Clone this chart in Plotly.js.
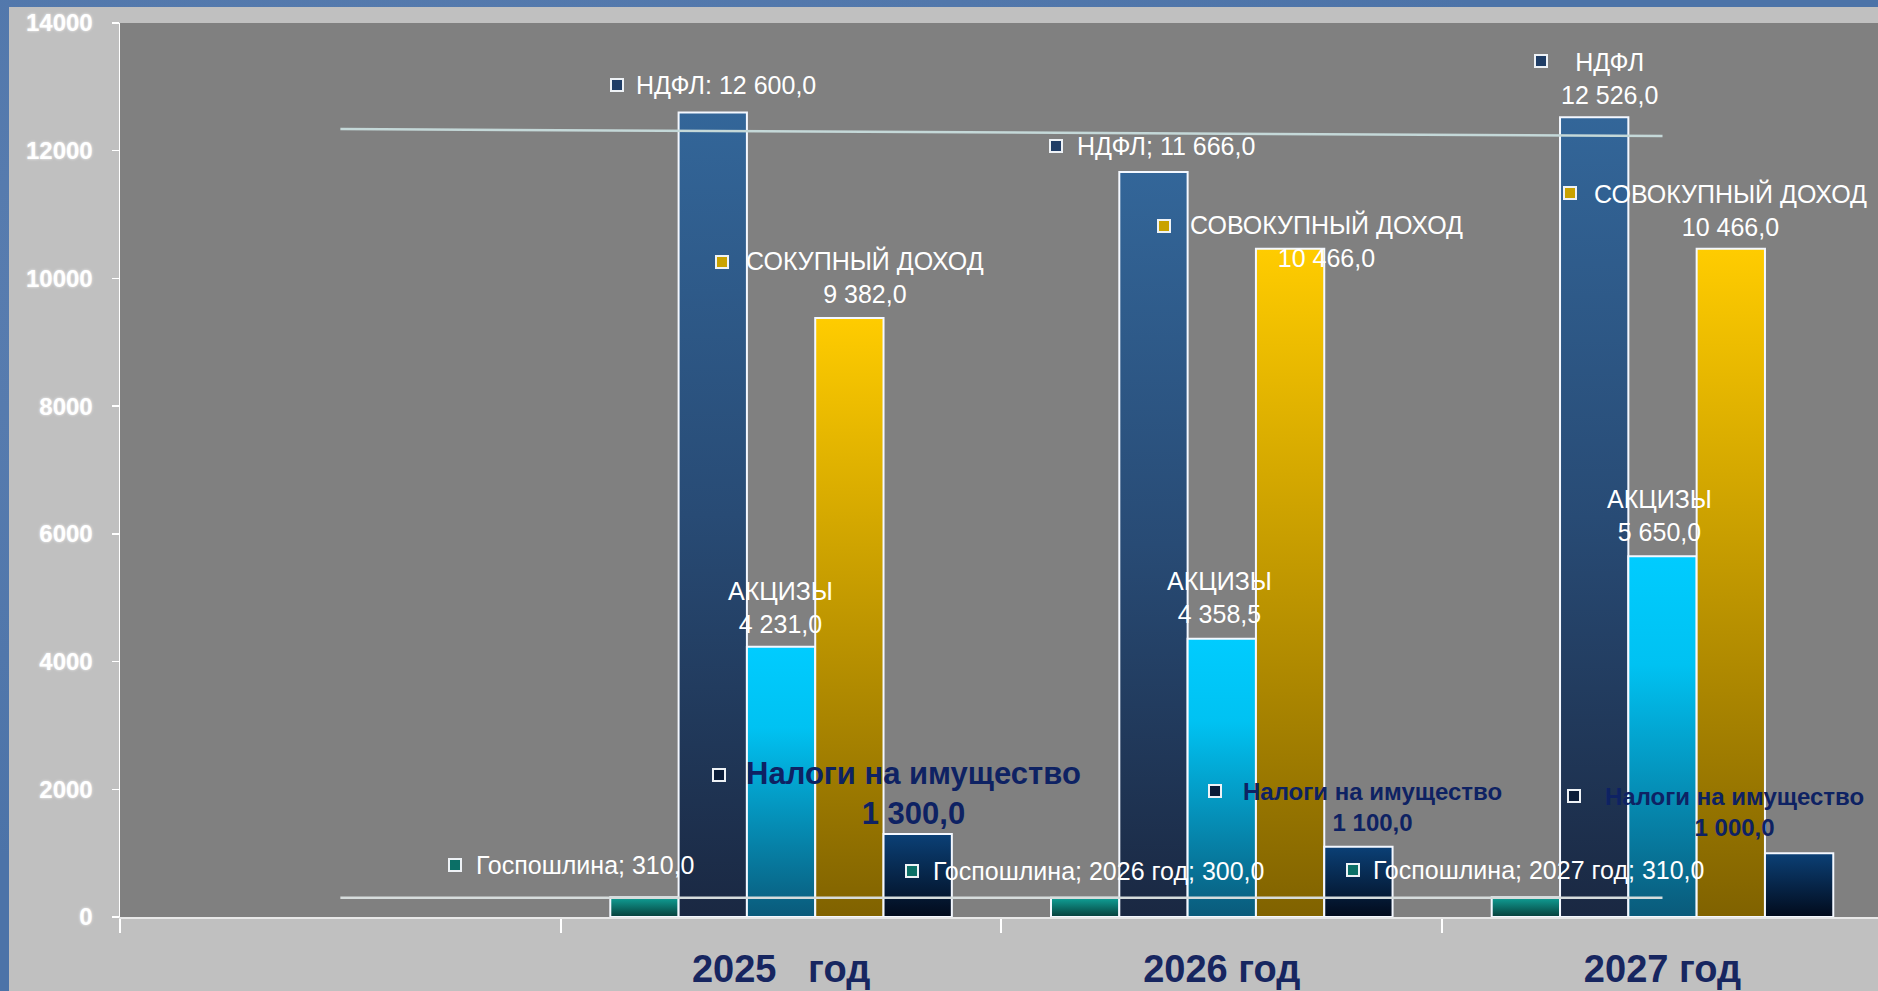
<!DOCTYPE html>
<html>
<head>
<meta charset="utf-8">
<script src="https://cdn.plot.ly/plotly-3.0.1.min.js"></script>
<style>
html,body{margin:0;padding:0;width:1878px;height:991px;overflow:hidden;
  background:#4c73a8;
  background-image:
    radial-gradient(ellipse at 20% 30%, rgba(120,150,195,0.35), rgba(0,0,0,0) 60%),
    radial-gradient(ellipse at 80% 70%, rgba(40,70,120,0.35), rgba(0,0,0,0) 60%);}
#chart{position:absolute;left:9px;top:7px;width:1869px;height:984px;}
</style>
</head>
<body>
<div id="chart"></div>
<script>
// ---- data ----
const categories = ['\u00a0', '2025\u00a0\u00a0\u00a0год', '2026 год', '2027 год'];
const years = categories.slice(1);
const seriesNames = ['Госпошлина', 'НДФЛ', 'АКЦИЗЫ', 'СОВОКУПНЫЙ ДОХОД', 'Налоги на имущество'];
const gosposhlina = [310, 300, 310];
const ndfl = [12600, 11666, 12526];
const akcizy = [4231, 4358.5, 5650];
const sovokupny = [9382, 10466, 10466];
const nalogiImush = [1300, 1100, 1000];
const trendNdfl = [12340, 12230];
const trendGos = [300, 300];
const yTicks = [0, 2000, 4000, 6000, 8000, 10000, 12000, 14000];

// ---- helpers ----
const FONT = 'Liberation Sans, Arial, sans-serif';
function fmt(v) {
  const parts = v.toFixed(1).split('.');
  return parts[0].replace(/\B(?=(\d{3})+(?!\d))/g, ' ') + ',' + parts[1];
}
const seriesValues = [gosposhlina, ndfl, akcizy, sovokupny, nalogiImush];
const baseColors = ['#0a8a80', '#2a5585', '#00bfef', '#e0b000', '#06284a'];
const keyColors = ['#0b6f66', '#1f3d66', '#00a8e0', '#c9a200', '#0a1c38'];
const gradIds = ['gGos', 'gNdfl', 'gAkc', 'gSov', 'gNal'];
const gradStops = [
  [[0, '#10a197'], [1, '#063e3a']],
  [[0, '#336699'], [0.5, '#284b75'], [1, '#1a2842']],
  [[0, '#00ccff'], [0.3, '#00c2f2'], [1, '#0a5a7a']],
  [[0, '#ffcc00'], [1, '#806200']],
  [[0, '#0b4076'], [1, '#020b1c']]
];
const barStep = 68.3; // px between bar centres in a group

// ---- traces ----
const data = seriesValues.map((vals, k) => ({
  type: 'bar', x: years, y: vals, name: seriesNames[k],
  marker: {color: baseColors[k], line: {color: '#f4f8ff', width: 2}},
  hoverinfo: 'skip'
}));
data.push({type: 'scatter', mode: 'lines', x: [categories[0], categories[3]], y: trendNdfl,
  line: {color: '#c4d8d8', width: 2.5}, hoverinfo: 'skip'});
data.push({type: 'scatter', mode: 'lines', x: [categories[0], categories[3]], y: trendGos,
  line: {color: '#d6dcdc', width: 2.5}, hoverinfo: 'skip'});

// ---- labels ----
const styles = {
  w: {family: FONT, size: 25, color: '#ffffff'},
  n30: {family: FONT, size: 31, color: '#0e2263', weight: 'bold'},
  n24: {family: FONT, size: 24, color: '#0e2263', weight: 'bold'}
};
// [year index, series index, dx, dy, anchor, text, style]
const labelSpecs = [
  [0, 0, -168, -32, 'left', seriesNames[0] + '; ' + fmt(gosposhlina[0]), 'w'],
  [0, 1, -77, -27, 'left', 'НДФЛ: ' + fmt(ndfl[0]), 'w'],
  [0, 3, 16, -41, 'center', 'СОКУПНЫЙ ДОХОД<br>' + fmt(sovokupny[0]), 'w'],
  [0, 2, -1, -39, 'center', seriesNames[2] + '<br>' + fmt(akcizy[0]), 'w'],
  [0, 4, -4, -40, 'center', seriesNames[4] + '<br>' + fmt(nalogiImush[0]), 'n30'],
  [1, 0, -152, -27, 'left', seriesNames[0] + '; ' + years[1] + '; ' + fmt(gosposhlina[1]), 'w'],
  [1, 1, -76, -26, 'left', 'НДФЛ; ' + fmt(ndfl[1]), 'w'],
  [1, 3, 36, -8, 'center', seriesNames[3] + '<br>' + fmt(sovokupny[1]), 'w'],
  [1, 2, -2, -41, 'center', seriesNames[2] + '<br>' + fmt(akcizy[1]), 'w'],
  [1, 4, 14, -40, 'center', seriesNames[4] + '<br>' + fmt(nalogiImush[1]), 'n24'],
  [2, 0, -153, -27, 'left', seriesNames[0] + '; ' + years[2] + '; ' + fmt(gosposhlina[2]), 'w'],
  [2, 1, 15, -39, 'center', 'НДФЛ<br>' + fmt(ndfl[2]), 'w'],
  [2, 3, 0, -39, 'center', seriesNames[3] + '<br>' + fmt(sovokupny[2]), 'w'],
  [2, 2, -3, -41, 'center', seriesNames[2] + '<br>' + fmt(akcizy[2]), 'w'],
  [2, 4, -65, -41, 'center', seriesNames[4] + '<br>' + fmt(nalogiImush[2]), 'n24']
];
// legend keys: [year index, series index, dx, dy]
const keySpecs = [
  [0, 0, -189, -32], [0, 1, -96, -27], [0, 3, -127, -56], [0, 4, -199, -59],
  [1, 0, -173, -27], [1, 1, -97, -26], [1, 3, -126, -23], [1, 4, -143, -56],
  [2, 0, -173, -27], [2, 1, -53, -56], [2, 3, -161, -56], [2, 4, -225, -57]
];
const annotations = [];
labelSpecs.forEach(([g, k, dx, dy, anchor, text, st]) => {
  annotations.push({
    xref: 'x', yref: 'y', x: g + 1, y: seriesValues[k][g],
    xshift: (k - 2) * barStep + dx, yshift: -dy,
    xanchor: anchor, yanchor: 'middle', align: 'center',
    text: text, showarrow: false, borderpad: 0, borderwidth: 0,
    font: styles[st]
  });
});
keySpecs.forEach(([g, k, dx, dy]) => {
  annotations.push({
    xref: 'x', yref: 'y', x: g + 1, y: seriesValues[k][g],
    xshift: (k - 2) * barStep + dx, yshift: -dy,
    xanchor: 'center', yanchor: 'middle',
    text: '\u00a0', showarrow: false, width: 10, height: 10,
    bgcolor: keyColors[k], bordercolor: '#eef2f6', borderwidth: 2, borderpad: 0,
    font: {family: FONT, size: 6, color: keyColors[k]}
  });
});

const layout = {
  width: 1869, height: 984,
  paper_bgcolor: '#c0c0c0', plot_bgcolor: '#808080',
  margin: {l: 111, r: 0, t: 16, b: 74, pad: 0},
  barmode: 'group', bargap: 0.225, bargroupgap: 0,
  showlegend: false,
  xaxis: {
    type: 'category', categoryorder: 'array', categoryarray: categories,
    range: [-0.5, 3.489], tickson: 'boundaries',
    ticks: 'outside', ticklen: 14, tickwidth: 2, tickcolor: '#ffffff',
    showline: true, linecolor: '#e8e8e8', linewidth: 2,
    showgrid: false, zeroline: false, ticklabelstandoff: 17,
    tickfont: {family: FONT, size: 38, color: '#172660', weight: 'bold'}
  },
  yaxis: {
    range: [0, 14000], tickvals: yTicks, ticktext: yTicks.map(String),
    ticks: 'outside', ticklen: 7, tickwidth: 1.5, tickcolor: '#ffffff',
    showline: true, linecolor: '#ffffff', linewidth: 1.5,
    showgrid: false, zeroline: false, ticklabelstandoff: 14,
    tickfont: {family: FONT, size: 24, color: '#ffffff', weight: 'bold',
      shadow: '0 0 3px rgba(255,255,255,0.8)'}
  },
  annotations: annotations
};

Plotly.newPlot('chart', data, layout, {staticPlot: true, displayModeBar: false}).then(gd => {
  const ns = 'http://www.w3.org/2000/svg';
  const svg = gd.querySelector('.main-svg');
  let defs = svg.querySelector('defs');
  if (!defs) { defs = document.createElementNS(ns, 'defs'); svg.insertBefore(defs, svg.firstChild); }
  gradIds.forEach((id, k) => {
    const lg = document.createElementNS(ns, 'linearGradient');
    lg.setAttribute('id', id);
    lg.setAttribute('x1', '0'); lg.setAttribute('y1', '0');
    lg.setAttribute('x2', '0'); lg.setAttribute('y2', '1');
    gradStops[k].forEach(([o, c]) => {
      const s = document.createElementNS(ns, 'stop');
      s.setAttribute('offset', o); s.setAttribute('stop-color', c);
      lg.appendChild(s);
    });
    defs.appendChild(lg);
  });
  gd.querySelectorAll('.barlayer .trace.bars').forEach((t, k) => {
    t.querySelectorAll('path').forEach(p => { p.style.fill = 'url(#' + gradIds[k] + ')'; });
  });
});
</script>
</body>
</html>
